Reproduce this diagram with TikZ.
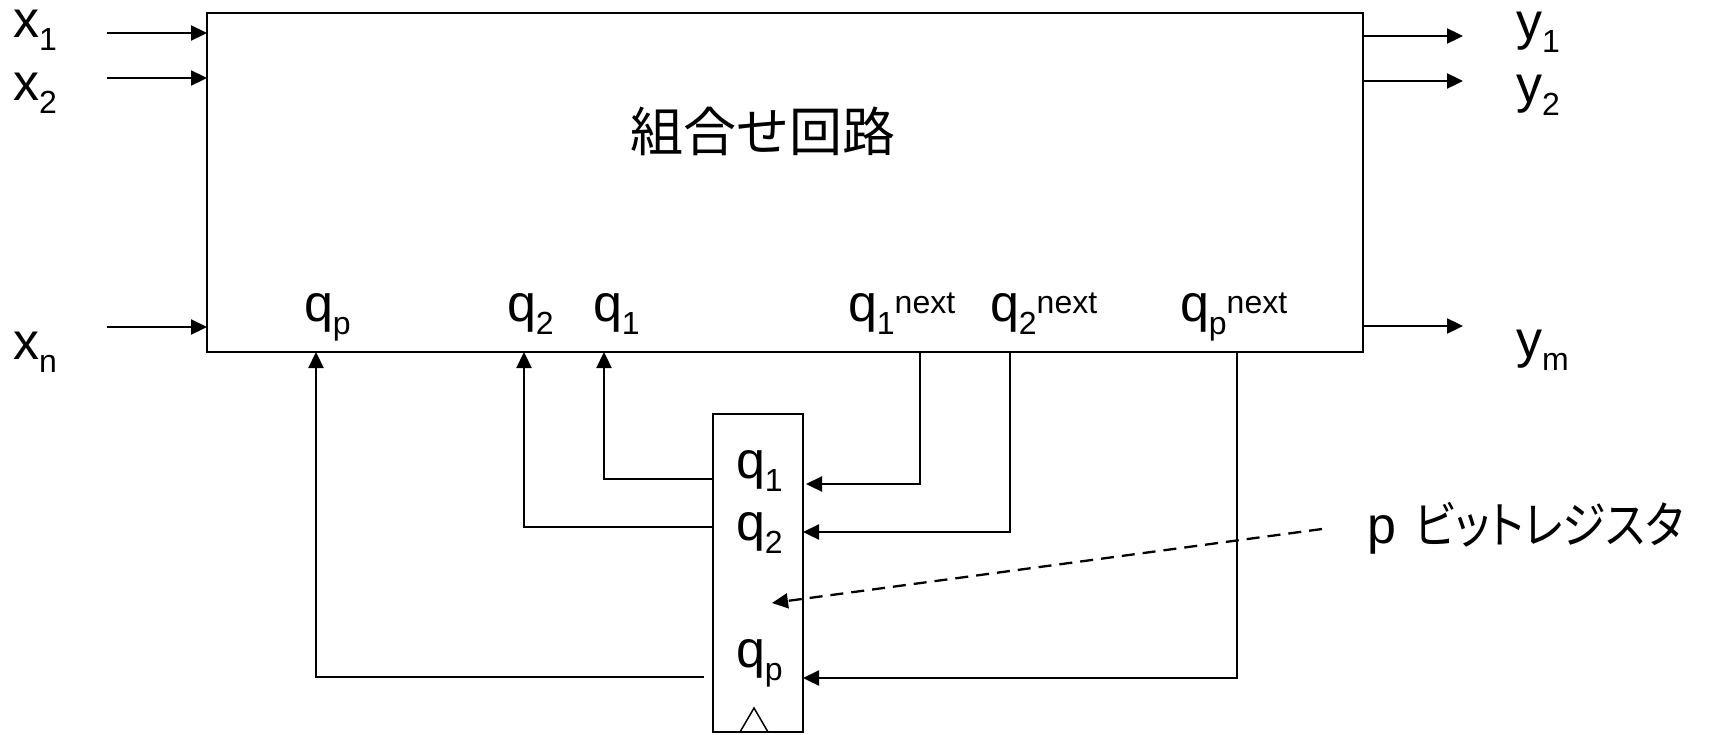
\documentclass[tikz,border=0pt]{standalone}
\usepackage{fontspec}
\setmainfont{Liberation Sans}
\newfontfamily\cjk{Noto Sans CJK JP}
\newfontfamily\cjkp[RawFeature=+palt]{Noto Sans CJK JP}
\usetikzlibrary{arrows.meta}
\newcommand{\lsub}[1]{\raisebox{-13pt}{\fontsize{32pt}{32pt}\selectfont #1}}
\newcommand{\lsup}[1]{\raisebox{8pt}{\fontsize{32pt}{32pt}\selectfont #1}}
\begin{document}
\begin{tikzpicture}[x=1pt,y=-1pt,
  lab/.style={inner sep=0pt, outer sep=0pt, anchor=base west, font=\fontsize{52pt}{52pt}\selectfont},
  arr/.style={line width=2.3pt, -{Triangle[length=16pt,width=15pt]}},
  darr/.style={arr, dash pattern=on 13pt off 8pt},
  blk/.style={draw, line width=2pt, inner sep=0pt, outer sep=0pt, anchor=north west}]
\useasboundingbox (0,0) rectangle (1729,734);
% blocks
\node[blk, minimum width=1156pt, minimum height=339pt] (cc) at (207,13) {};
\node[blk, minimum width=90pt, minimum height=318pt] (reg) at (713,414) {};
\draw[line width=1.5pt, line join=miter] (740,732) -- (754,708) -- (768,732);
% texts
\node[lab, font=\cjk\fontsize{53pt}{53pt}\selectfont] (title) at (630,151) {組合せ回路};
\node[lab] (x1) at (13,37) {x\lsub{1}};
\node[lab] (x2) at (13,100) {x\lsub{2}};
\node[lab] (xn) at (13,359) {x\lsub{n}};
\node[lab] (y1) at (1516,39) {y\lsub{1}};
\node[lab] (y2) at (1516,102) {y\lsub{2}};
\node[lab] (ym) at (1516,357) {y\lsub{m}};
\node[lab] (bqp) at (304,321) {q\lsub{p}};
\node[lab] (bq2) at (507,321) {q\lsub{2}};
\node[lab] (bq1) at (593,321) {q\lsub{1}};
\node[lab] (nq1) at (848,321) {q\lsub{1}\lsup{next}};
\node[lab] (nq2) at (990,321) {q\lsub{2}\lsup{next}};
\node[lab] (nqp) at (1180,321) {q\lsub{p}\lsup{next}};
\node[lab] (rq1) at (736,478) {q\lsub{1}};
\node[lab] (rq2) at (736,540) {q\lsub{2}};
\node[lab] (rqp) at (736,667) {q\lsub{p}};
\node[lab] (plab) at (1367,543) {p\hspace{19pt}\scalebox{0.88}[1]{\cjkp\fontsize{50pt}{50pt}\selectfont ビットレジスタ}};
% free ends
\coordinate (x1s) at (107,33);
\coordinate (x2s) at (107,78);
\coordinate (xns) at (107,327);
\coordinate (y1e) at (1463,36);
\coordinate (y2e) at (1463,81);
\coordinate (yme) at (1463,326);
\coordinate (q1o) at (604,479);
\coordinate (q2o) at (524,527);
\coordinate (qpo) at (316,677);
\coordinate (qpe) at (704,677);
\coordinate (q1n) at (920,484);
\coordinate (q2n) at (1010,532);
\coordinate (qpn) at (1237,678);
\coordinate (ds) at (1322,529);
\coordinate (de) at (772,603);
% inputs / outputs
\draw[arr] (x1s) -- (x1s -| cc.west);
\draw[arr] (x2s) -- (x2s -| cc.west);
\draw[arr] (xns) -- (xns -| cc.west);
\draw[arr] (y1e -| cc.east) -- (y1e);
\draw[arr] (y2e -| cc.east) -- (y2e);
\draw[arr] (yme -| cc.east) -- (yme);
% feedback from register
\draw[arr] (q1o -| reg.west) -- (q1o) -- (q1o |- cc.south);
\draw[arr] (q2o -| reg.west) -- (q2o) -- (q2o |- cc.south);
\draw[arr] (qpe) -- (qpo) -- (qpo |- cc.south);
% next state into register
\draw[arr] (q1n |- cc.south) -- (q1n) -- ([xshift=3pt]q1n -| reg.east);
\draw[arr] (q2n |- cc.south) -- (q2n) -- (q2n -| reg.east);
\draw[arr] (qpn |- cc.south) -- (qpn) -- (qpn -| reg.east);
% pointer
\draw[darr] (ds) -- (de);
\end{tikzpicture}
\end{document}
